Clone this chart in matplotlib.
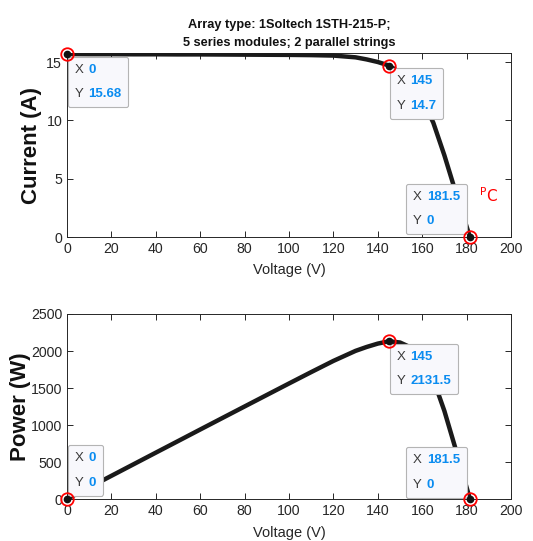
import numpy as np
import matplotlib
matplotlib.use('Agg')
import matplotlib.pyplot as plt
from matplotlib.offsetbox import TextArea, HPacker, VPacker, AnnotationBbox

plt.rcParams['font.family'] = ['Liberation Sans', 'DejaVu Sans']

# ----------------------------- data -----------------------------
voltage = [0, 10, 20, 30, 40, 50, 60, 70, 80, 90, 100, 110, 120, 130, 135, 140,
           145, 150, 155, 160, 165, 170, 175, 181.5]
current = [15.68, 15.67, 15.67, 15.66, 15.66, 15.65, 15.65, 15.64, 15.63, 15.62, 15.61,
           15.59, 15.55, 15.40, 15.22, 15.00, 14.70, 14.10, 13.20, 11.80, 9.80, 7.00,
           3.90, 0.0]
power = [0, 156.7, 313.4, 469.8, 626.4, 782.5, 939.0, 1094.8, 1250.4, 1405.8, 1561.0,
         1714.9, 1866.0, 2002.0, 2054.7, 2100.0, 2131.5, 2115.0, 2046.0, 1888.0, 1617.0,
         1190.0, 682.5, 0.0]

iv_tips = [(0, 15.68), (145, 14.7), (181.5, 0)]
pv_tips = [(0, 0), (145, 2131.5), (181.5, 0)]

title = 'Array type: 1Soltech 1STH-215-P;\n5 series modules; 2 parallel strings'

GRAY = '#262626'
BLUE = '#0a8cf0'

def fmt(v):
    return ('%g' % v)

def datatip(ax, x, y, align, offset):
    rows = []
    for lab, val in (('X', x), ('Y', y)):
        t1 = TextArea(lab + ' ', textprops=dict(color='#3a3a3a', fontsize=9.5))
        t2 = TextArea(fmt(val), textprops=dict(color=BLUE, fontsize=9.5, fontweight='bold'))
        rows.append(HPacker(children=[t1, t2], align='baseline', pad=0, sep=1))
    box = VPacker(children=rows, align='left', pad=0, sep=9)
    ab = AnnotationBbox(box, (x, y), xybox=offset, xycoords='data',
                        boxcoords='offset points', box_alignment=align, pad=0.5,
                        frameon=True, annotation_clip=False,
                        bboxprops=dict(facecolor='#f8f8fc', edgecolor='#b4b4b4',
                                       lw=0.8, boxstyle='round,pad=0.5,rounding_size=0.15'))
    ab.set_zorder(5)
    ax.add_artist(ab)
    ax.plot([x], [y], 'o', ms=9, mfc='none', mec='red', mew=1.3, zorder=6, clip_on=False)
    ax.plot([x], [y], 'o', ms=4.5, color='#111111', zorder=7, clip_on=False)

def style(ax):
    ax.tick_params(direction='in', top=True, right=True, labelsize=10.2,
                   colors=GRAY, length=4, width=0.7)
    for s in ax.spines.values():
        s.set_color(GRAY); s.set_linewidth(0.7)
    ax.set_xlim(0, 200)
    ax.set_xticks(np.arange(0, 201, 20))

fig = plt.figure(figsize=(5.33, 5.41), dpi=100)
ax1 = fig.add_axes([0.1257, 0.5619, 0.833, 0.3401])
ax2 = fig.add_axes([0.1257, 0.0776, 0.833, 0.3420])

# I-V
ax1.plot(voltage, current, color='#1a1a1a', lw=3.2, zorder=3, solid_capstyle='round')
style(ax1)
ax1.set_ylim(0, 15.77)
ax1.set_yticks([0, 5, 10, 15])
ax1.set_title(title, fontsize=9.2, fontweight='bold', color='#111111', pad=5, linespacing=1.7)
ax1.set_xlabel('Voltage (V)', fontsize=10.5, color=GRAY, labelpad=5)
ax1.set_ylabel('Current (A)', fontsize=16, fontweight='bold', color='#111111')
ax1.yaxis.set_label_coords(-0.056, 0.5)
ax1.text(185.5, 3.0, r'$^{\mathrm{P}}\mathrm{C}$', color='red', fontsize=11, zorder=4)
datatip(ax1, *iv_tips[0], (0, 1), (5.5, -7))
datatip(ax1, *iv_tips[1], (0, 1), (5.5, -7))
datatip(ax1, *iv_tips[2], (1, 0), (-7, 7))

# P-V
ax2.plot(voltage, power, color='#1a1a1a', lw=3.2, zorder=3, solid_capstyle='round')
style(ax2)
ax2.set_ylim(0, 2500)
ax2.set_yticks(np.arange(0, 2501, 500))
ax2.set_xlabel('Voltage (V)', fontsize=10.5, color=GRAY, labelpad=6)
ax2.set_ylabel('Power (W)', fontsize=16, fontweight='bold', color='#111111')
ax2.yaxis.set_label_coords(-0.082, 0.5)
datatip(ax2, *pv_tips[0], (0, 0), (5.5, 7.5))
datatip(ax2, *pv_tips[1], (0, 1), (5.5, -7))
datatip(ax2, *pv_tips[2], (1, 0), (-7, 6))

fig.savefig('out.png', dpi=100)
